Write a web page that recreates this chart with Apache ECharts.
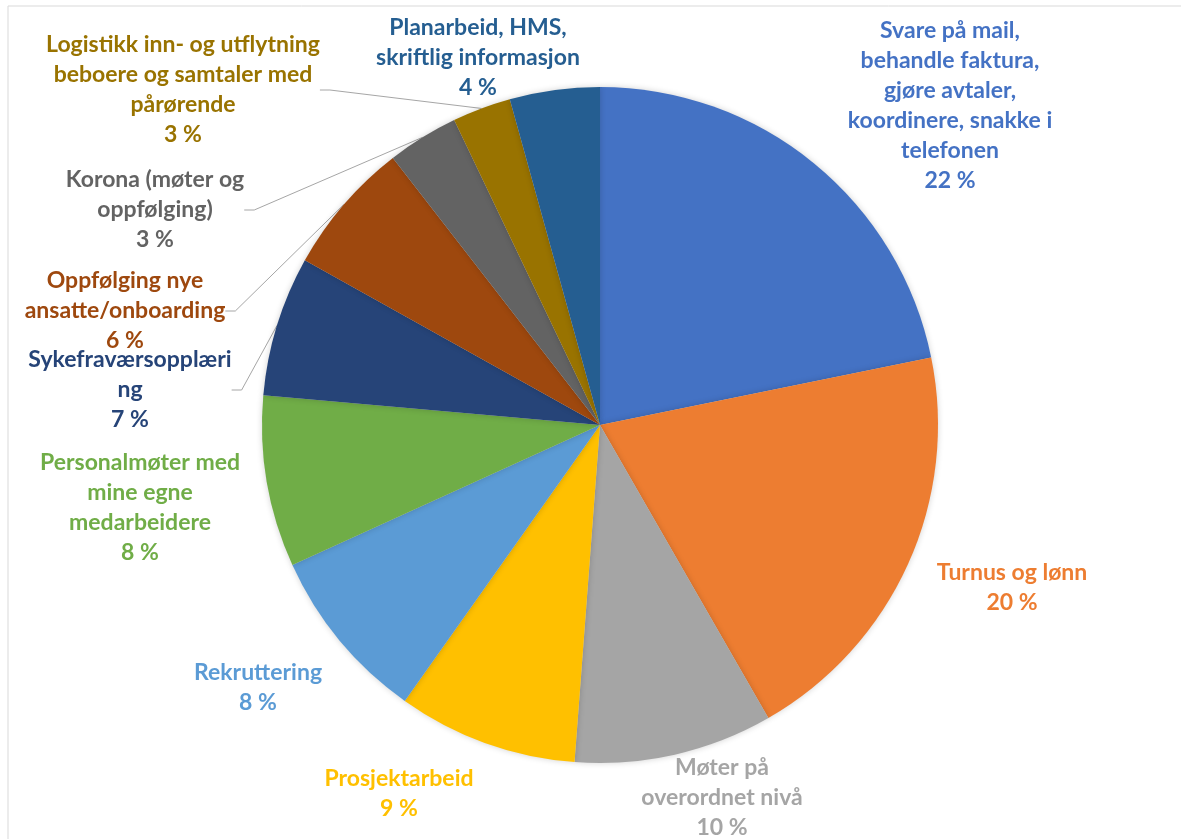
<!DOCTYPE html>
<html>
<head>
<meta charset="utf-8">
<script src="https://cdn.jsdelivr.net/npm/echarts@6/dist/echarts.min.js"></script>
<style>
  html, body { margin: 0; padding: 0; background: #fff; }
  #chart { width: 1181px; height: 839px; }
</style>
</head>
<body>
<div id="chart"></div>
<script>
// oppgaver, fra toppen og med klokka
var tasks = [
    'Svare på mail,\nbehandle faktura,\ngjøre avtaler,\nkoordinere, snakke i\ntelefonen',
    'Turnus og lønn',
    'Møter på\noverordnet nivå',
    'Prosjektarbeid',
    'Rekruttering',
    'Personalmøter med\nmine egne\nmedarbeidere',
    'Sykefraværsopplæri\nng',
    'Oppfølging nye\nansatte/onboarding',
    'Korona (møter og\noppfølging)',
    'Logistikk inn- og utflytning\nbeboere og samtaler med\npårørende',
    'Planarbeid, HMS,\nskriftlig informasjon'
];
var shares = [21.8, 19.9, 9.5, 8.6, 8.4, 8.2, 6.7, 6.4, 3.4, 2.8, 4.3];

var colors = ['#4472C4', '#ED7D31', '#A5A5A5', '#FFC000', '#5B9BD5', '#70AD47',
              '#264478', '#9E480E', '#636363', '#997300', '#255E91'];
// hvor etiketten står (midten av tekstblokka)
var labelPos = [[950, 106], [1012, 588], [722, 798], [399, 794], [258, 688], [140, 508],
                [130, 390], [125, 311], [155, 210], [183, 90], [478, 58]];
var withLine = [false, false, false, false, false, false, true, true, true, true, false];

var chart = echarts.init(document.getElementById('chart'));

var pieData = [];
for (var i = 0; i < tasks.length; i++) {
    pieData.push({
        name: tasks[i],
        value: shares[i],
        itemStyle: { color: colors[i] },
        label: { color: colors[i] },
        labelLine: { show: withLine[i] }
    });
}

chart.setOption({
    backgroundColor: '#fff',
    animation: false,
    graphic: [{
        type: 'rect',
        shape: { x: 8, y: 6, width: 1200, height: 900 },
        style: { fill: 'none', stroke: '#d9d9d9', lineWidth: 1 }
    }],
    series: [{
        type: 'pie',
        center: [600, 425],
        radius: 338,
        startAngle: 90,
        clockwise: true,
        avoidLabelOverlap: false,
        data: pieData,
        itemStyle: {
            borderWidth: 0,
            shadowBlur: 6,
            shadowColor: 'rgba(0,0,0,0.18)'
        },
        label: {
            show: true,
            position: 'outside',
            formatter: function (p) {
                return p.name + '\n' + Math.round(p.value) + ' %';
            },
            fontFamily: 'Lato',
            fontWeight: 'bold',
            fontSize: 23,
            lineHeight: 30,
            align: 'center'
        },
        labelLine: {
            lineStyle: { color: '#a6a6a6', width: 1 },
            length: 10,
            length2: 10
        },
        labelLayout: function (params) {
            var p = labelPos[params.dataIndex];
            return { x: p[0], y: p[1], align: 'center', verticalAlign: 'middle' };
        }
    }]
});
</script>
</body>
</html>
